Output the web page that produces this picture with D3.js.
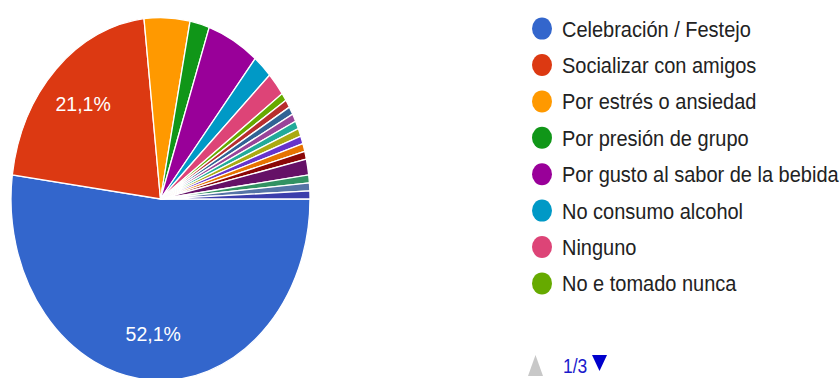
<!DOCTYPE html>
<html>
<head>
<meta charset="utf-8">
<script src="https://cdn.jsdelivr.net/npm/d3@7"></script>
<style>
  html, body { margin: 0; padding: 0; background: #fff; }
  svg { display: block; }
  text { font-family: "Liberation Sans", Arial, sans-serif; }
</style>
</head>
<body>
<svg id="chart" width="840" height="378"></svg>
<script>
// Motivos para consumir alcohol (142 respuestas)
const categories = [
  "Celebración / Festejo",
  "Socializar con amigos",
  "Por estrés o ansiedad",
  "Por presión de grupo",
  "Por gusto al sabor de la bebida",
  "No consumo alcohol",
  "Ninguno",
  "No e tomado nunca",
  "Otro motivo 9", "Otro motivo 10", "Otro motivo 11", "Otro motivo 12",
  "Otro motivo 13", "Otro motivo 14", "Otro motivo 15", "Otro motivo 16",
  "Otro motivo 17", "Otro motivo 18", "Otro motivo 19", "Otro motivo 20"
];
const counts = [74, 30, 7, 3, 8, 3, 3, 1, 1, 1, 1, 1, 1, 1, 1, 1, 2, 1, 1, 1];
const colors = [
  "#3366cc", "#dc3912", "#ff9900", "#109618", "#990099", "#0099c6", "#dd4477",
  "#66aa00", "#b82e2e", "#316395", "#994499", "#22aa99", "#aaaa11", "#6633cc",
  "#e67300", "#8b0707", "#651067", "#329262", "#5574a6", "#3b3eac"
];
const legendPage = 1;
const legendPages = 3;
const perPage = 8;

const data = categories.map((c, i) => ({ label: c, value: counts[i], color: colors[i] }));
const total = d3.sum(counts);
const fmt = v => (v / total * 100).toFixed(1).replace(".", ",") + "%";

const svg = d3.select("#chart");

// pie geometry (drawn as a circle, stretched vertically)
const cx = 160.5, cy = 199, r = 149.5, sy = 1.214;
const textScale = 1.08;

const pie = d3.pie()
  .value(d => d.value)
  .sort(null)
  .startAngle(Math.PI / 2)
  .endAngle(Math.PI / 2 + 2 * Math.PI);
const arcs = pie(data);

const arc = d3.arc().innerRadius(0).outerRadius(r);
const labelArc = d3.arc().innerRadius(r * 0.74).outerRadius(r * 0.74);

const gPie = svg.append("g")
  .attr("transform", `translate(${cx},${cy}) scale(1,${sy})`);

gPie.selectAll("path")
  .data(arcs)
  .join("path")
  .attr("d", arc)
  .attr("fill", d => d.data.color)
  .attr("stroke", "#fff")
  .attr("stroke-width", 1.3)
  .attr("vector-effect", "non-scaling-stroke");

// percentage labels on the large slices
svg.append("g")
  .selectAll("text")
  .data(arcs.filter(d => d.data.value / total >= 0.1))
  .join("text")
  .attr("transform", d => {
    const [x, y] = labelArc.centroid(d);
    return `translate(${cx + x},${cy + y * sy}) scale(1,${textScale})`;
  })
  .attr("text-anchor", "middle")
  .attr("dy", "0.36em")
  .attr("font-size", 19.5)
  .attr("fill", "#fff")
  .text(d => fmt(d.data.value));

// legend (first page)
const legendData = data.slice((legendPage - 1) * perPage, legendPage * perPage);
const legendY = d3.scaleLinear().domain([0, 1]).range([28.6, 65]);

const gLeg = svg.append("g");
const rows = gLeg.selectAll("g")
  .data(legendData)
  .join("g")
  .attr("transform", (d, i) => `translate(0,${legendY(i)})`);

rows.append("ellipse")
  .attr("cx", 542)
  .attr("cy", 0)
  .attr("rx", 10)
  .attr("ry", 11)
  .attr("fill", d => d.color);

rows.append("text")
  .attr("transform", `translate(562,8) scale(1,${textScale})`)
  .attr("font-size", 20)
  .attr("fill", "#222")
  .text(d => d.label);

// pager
const gPager = svg.append("g");
gPager.append("path")
  .attr("d", "M528,376 L535.5,355 L543,376 Z")
  .attr("fill", "#c8c8c8");
gPager.append("text")
  .attr("transform", `translate(563,373) scale(1,1.12)`)
  .attr("font-size", 17.5)
  .attr("fill", "#1a1acc")
  .text(`${legendPage}/${legendPages}`);
gPager.append("path")
  .attr("d", "M592,355 L607,355 L599.5,371 Z")
  .attr("fill", "#0000cc");
</script>
</body>
</html>
